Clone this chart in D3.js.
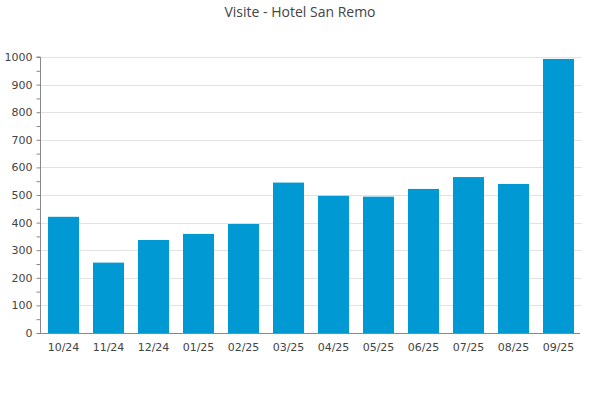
<!DOCTYPE html>
<html><head><meta charset="utf-8">
<script src="https://cdn.jsdelivr.net/npm/d3@7"></script>
<style>body{margin:0;background:#fff}svg{display:block}</style>
</head><body><svg id="c" width="600" height="400"></svg>
<script>
(function(){
const categories = ["10/24","11/24","12/24","01/25","02/25","03/25","04/25","05/25","06/25","07/25","08/25","09/25"];
const visits = [421,255,337,359,395,545,497,494,522,565,540,993];
const yTicks = [0,100,200,300,400,500,600,700,800,900,1000];
const title = "Visite - Hotel San Remo";

const svg = d3.select("#c");
const mL = 40, mR = 582, mT = 57, mB = 333;
const x = d3.scaleBand().domain(categories).range([mL, mR]).paddingInner(0.311).paddingOuter(0.178);
const y = d3.scaleLinear().domain([0,1000]).range([mB, mT]);

svg.append("text").attr("x",300).attr("y",17).attr("text-anchor","middle")
  .attr("font-family","Open Sans, sans-serif").attr("font-size",14).attr("fill","#444").text(title);

// grid
svg.append("g").selectAll("line").data(yTicks.filter(d=>d>0)).join("line")
  .attr("x1",mL).attr("x2",mR).attr("y1",d=>Math.round(y(d))+0.5).attr("y2",d=>Math.round(y(d))+0.5)
  .attr("stroke","#e2e2e2");

// bars
svg.append("g").selectAll("rect").data(visits).join("rect")
  .attr("x",(d,i)=>x(categories[i])).attr("width",x.bandwidth())
  .attr("y",d=>y(d)).attr("height",d=>y(0)-y(d)).attr("fill","#0099d4");

// y axis
const minor = d3.range(0,1001,50);
const ya = svg.append("g").attr("transform",`translate(${mL+0.5},0)`);
ya.call(d3.axisLeft(y).tickValues(minor).tickSize(4).tickFormat(d=> d%100===0 ? d : ""));
ya.select(".domain").attr("stroke","#888").attr("d",`M-4,${mT}H0V${mB}`);
ya.selectAll(".tick line").attr("stroke","#888");
ya.selectAll(".tick text").attr("font-family","DejaVu Sans, sans-serif").attr("font-size",11).attr("fill","#444").attr("x",-8);

// x axis
const xa = svg.append("g").attr("transform",`translate(0,${mB+0.5})`);
xa.call(d3.axisBottom(x).tickSize(0).tickPadding(10));
xa.select(".domain").attr("stroke","#888").attr("d",`M${mL},0H${mR-2}`);
xa.selectAll(".tick text").attr("font-family","DejaVu Sans, sans-serif").attr("font-size",11).attr("fill","#444");
})();
</script></body></html>
